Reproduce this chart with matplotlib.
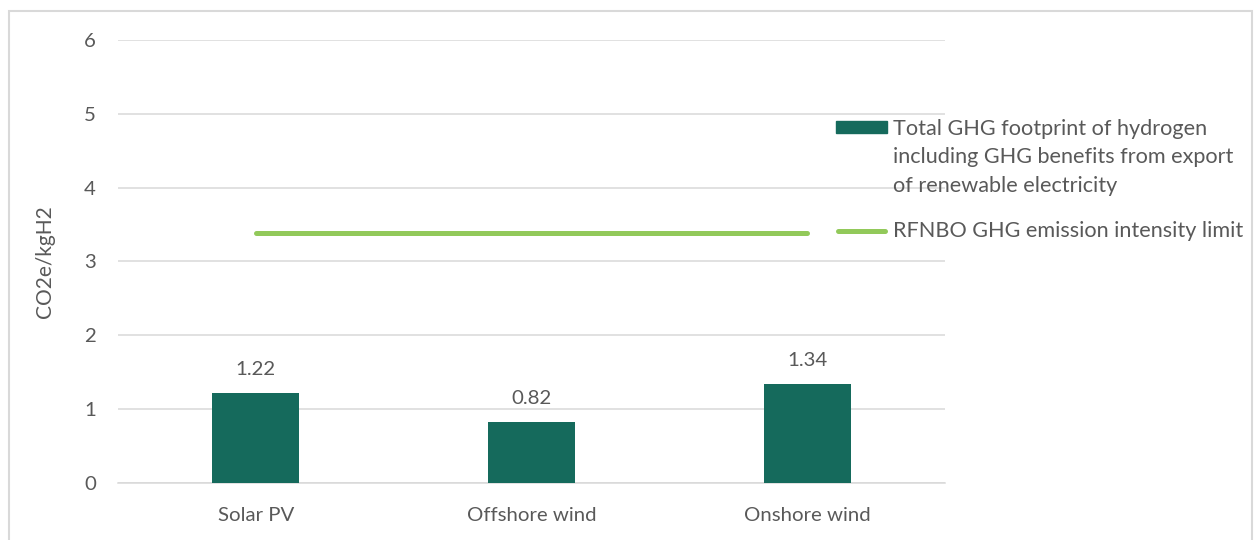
import numpy as np
import matplotlib
matplotlib.use('Agg')
import matplotlib.pyplot as plt
from matplotlib.patches import Rectangle
from matplotlib.lines import Line2D

plt.rcParams['font.family'] = ['Lato', 'DejaVu Sans']

# Chart data
categories = ['Solar PV', 'Offshore wind', 'Onshore wind']
ghg_footprint = [1.22, 0.82, 1.34]
rfnbo_limit = [3.38, 3.38, 3.38]
y_ticks = [0, 1, 2, 3, 4, 5, 6]

bar_label = ('Total GHG footprint of hydrogen\n'
             'including GHG benefits from export\n'
             'of renewable electricity')
line_label = 'RFNBO GHG emission intensity limit'

BAR_COLOR = '#156A5C'
LINE_COLOR = '#92C95A'
TEXT_COLOR = '#595959'
GRID_COLOR = '#D9D9D9'

fig = plt.figure(figsize=(12.54, 5.4), dpi=100)
ax = fig.add_axes([0.0941, 0.1056, 0.6595, 0.8204])

x = np.arange(len(categories))
bars = ax.bar(x, ghg_footprint, width=0.315, color=BAR_COLOR, zorder=3)
ax.plot(x, rfnbo_limit, color=LINE_COLOR, lw=3.6, solid_capstyle='round', zorder=4)

# value labels above bars
for xi, v in zip(x, ghg_footprint):
    ax.annotate(f'{v:.2f}', (xi, v), xytext=(0, 11), textcoords='offset points',
                ha='center', va='bottom', fontsize=14.7, color=TEXT_COLOR)

ax.set_xlim(-0.5, len(categories) - 0.5)
ax.set_ylim(0, 6)
ax.set_yticks(y_ticks)
ax.set_xticks(x)
ax.set_xticklabels(categories)
ax.tick_params(axis='both', length=0, labelsize=14.7, colors=TEXT_COLOR)
ax.tick_params(axis='y', pad=16)
ax.tick_params(axis='x', pad=17)
ax.grid(axis='y', color=GRID_COLOR, lw=1.1, zorder=0)
for side in ['top', 'right', 'left']:
    ax.spines[side].set_visible(False)
ax.spines['bottom'].set_color(GRID_COLOR)
ax.spines['bottom'].set_linewidth(1.1)
ax.set_ylabel('CO2e/kgH2', fontsize=15, color=TEXT_COLOR, labelpad=21)

# legend on the right side
fig.add_artist(Rectangle((836 / 1254, 1 - 133 / 540), 51 / 1254, 12 / 540,
                         transform=fig.transFigure, color=BAR_COLOR))
fig.text(893 / 1254, 1 - 119 / 540, bar_label, ha='left', va='top',
         fontsize=15.6, color=TEXT_COLOR, linespacing=1.52)
fig.add_artist(Line2D([838 / 1254, 885 / 1254], [1 - 231 / 540, 1 - 231 / 540],
                      transform=fig.transFigure, color=LINE_COLOR, lw=3.6,
                      solid_capstyle='round'))
fig.text(893 / 1254, 1 - 231 / 540, line_label, ha='left', va='center',
         fontsize=15.6, color=TEXT_COLOR)

# outer frame
fig.add_artist(Rectangle((9 / 1254, -0.01), 1243 / 1254, 1 - 11 / 540 + 0.01,
                         transform=fig.transFigure, fill=False,
                         edgecolor=GRID_COLOR, lw=1.5))

fig.savefig('out.png', dpi=100)
